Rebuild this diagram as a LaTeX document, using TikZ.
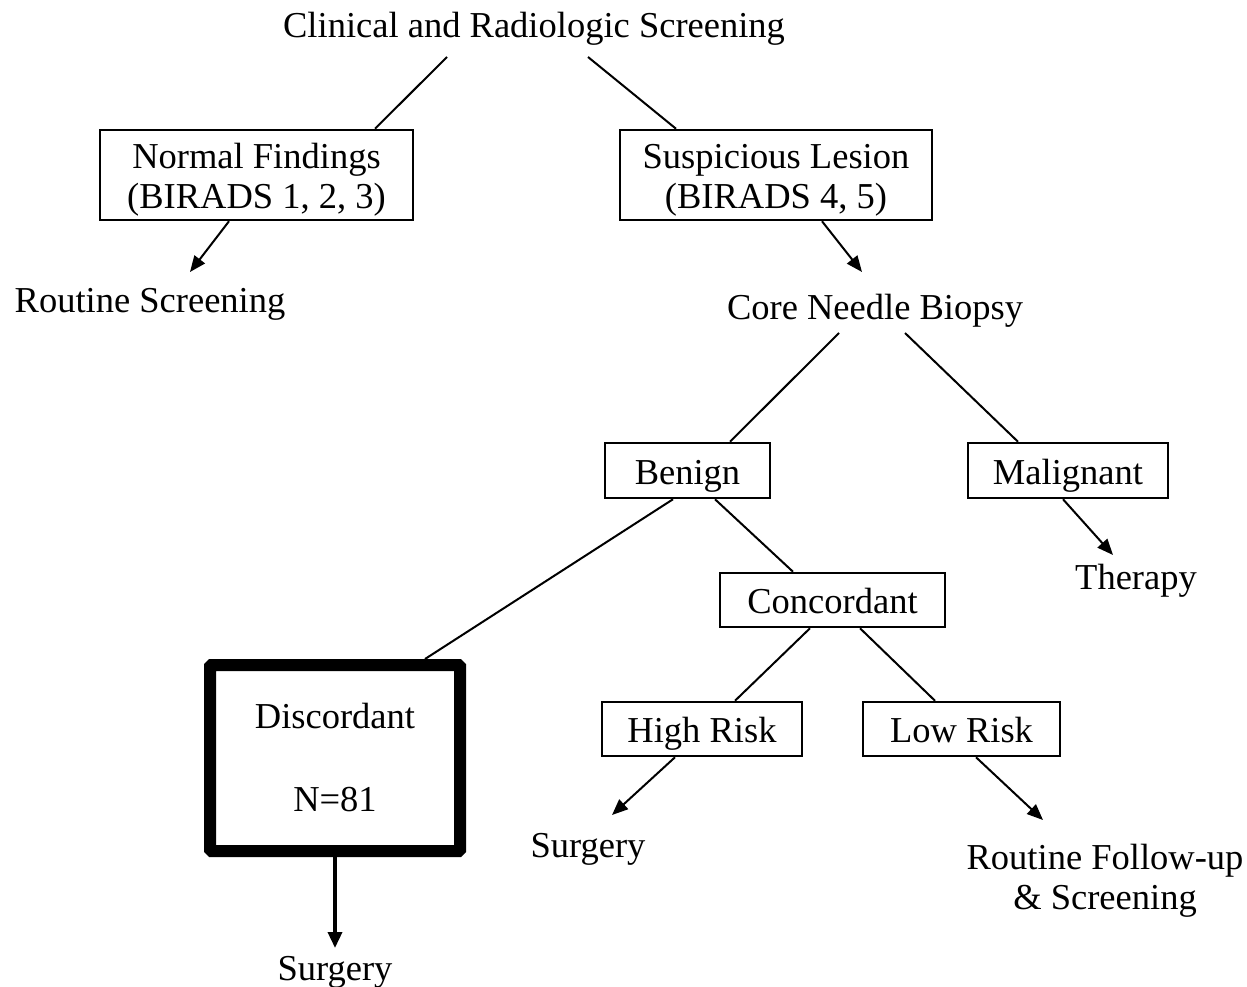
\documentclass[tikz,border=0pt]{standalone}
\usepackage{fontspec}
\setmainfont{Liberation Serif}
\usetikzlibrary{arrows.meta,calc}
\begin{document}
\begin{tikzpicture}[x=1pt,y=-1pt,
  every node/.style={font=\fontsize{36.5}{40}\selectfont},
  txt/.style={inner sep=0pt, align=center, text height=33pt, text depth=8pt},
  box/.style={draw, line width=2.5pt, rectangle, inner sep=0pt, align=center, text height=35pt, text depth=8pt},
  bigbox/.style={draw, line width=12pt, rectangle, inner sep=0pt, align=center, rounded corners=1.5pt},
  link/.style={line width=2pt},
  arr/.style={line width=2pt, -{Triangle[length=16pt,width=13pt]}},
  thickarr/.style={line width=3.5pt, -{Triangle[length=16pt,width=14pt]}}]
\useasboundingbox (0,0) rectangle (1247,987);
\node[txt] (title) at (534,25) {Clinical and Radiologic Screening};
\node[box, text height=75pt, minimum width=313pt, minimum height=90pt] (normal) at (256.5,175) {Normal Findings\\(BIRADS 1, 2, 3)};
\node[box, text height=75pt, minimum width=312pt, minimum height=90pt] (susp) at (776,175) {Suspicious Lesion\\(BIRADS 4, 5)};
\node[txt] (routine) at (150,300) {Routine Screening};
\node[txt] (core) at (875,307) {Core Needle Biopsy};
\node[box, minimum width=165pt, minimum height=55pt] (benign) at (687.5,470.5) {Benign};
\node[box, minimum width=200pt, minimum height=55pt] (malig) at (1068,470.5) {Malignant};
\node[txt] (therapy) at (1136,577) {Therapy};
\node[box, minimum width=225pt, minimum height=54pt] (conc) at (832.5,600) {Concordant};
\node[box, minimum width=200pt, minimum height=54pt] (high) at (702,729) {High Risk};
\node[box, minimum width=197pt, minimum height=54pt] (low) at (961.5,729) {Low Risk};
\node[txt] (surg1) at (588,845) {Surgery};
\node[txt, text height=73pt] (follow) at (1105,877) {Routine Follow-up\\\& Screening};
\node[bigbox, minimum width=250pt, minimum height=186pt] (disc) at (335,758) {Discordant\\[43pt]N=81};
\node[txt] (surg2) at (335,968) {Surgery};

\draw[link] ($(title)+(-87,32)$) -- ($(normal.north)+(118.5,0)$);
\draw[link] ($(title)+(54,32)$) -- ($(susp.north)+(-100,0)$);
\draw[arr] ($(normal.south)+(-27.5,0)$) -- ($(routine)+(40,-28)$);
\draw[arr] ($(susp.south)+(46,0)$) -- ($(core)+(-13,-35)$);
\draw[link] ($(core)+(-36,26)$) -- ($(benign.north)+(42.5,0)$);
\draw[link] ($(core)+(30,26)$) -- ($(malig.north)+(-50,0)$);
\draw[link] ($(benign.south)+(-14.5,0)$) -- ($(disc.north)+(90,0)$);
\draw[link] ($(benign.south)+(27.5,0)$) -- ($(conc.north)+(-39.5,0)$);
\draw[arr] ($(malig.south)+(-5,0)$) -- ($(therapy)+(-23,-22)$);
\draw[link] ($(conc.south)+(-22.5,0)$) -- ($(high.north)+(33,0)$);
\draw[link] ($(conc.south)+(27.5,0)$) -- ($(low.north)+(-26.5,0)$);
\draw[arr] ($(high.south)+(-27,0)$) -- ($(surg1)+(24,-30)$);
\draw[arr] ($(low.south)+(14.5,0)$) -- ($(follow)+(-62,-57)$);
\draw[thickarr] (disc.south) -- ($(surg2)+(0,-20)$);
\end{tikzpicture}
\end{document}
